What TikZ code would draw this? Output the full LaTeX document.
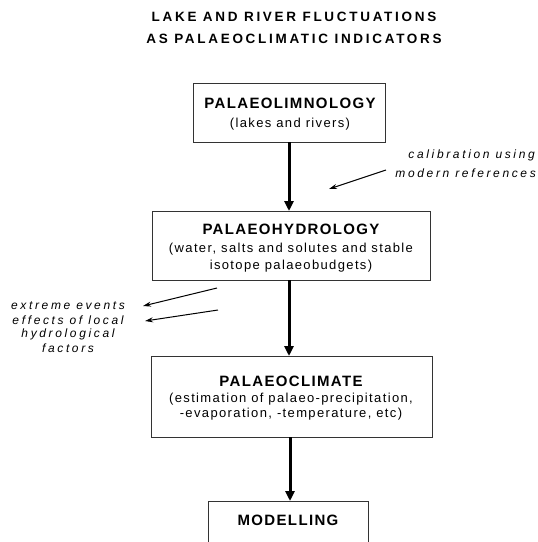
\documentclass[tikz,border=0pt]{standalone}
\usepackage{fontspec}
\setmainfont{Liberation Sans}
\newfontfamily\titlefont[LetterSpace=20]{Liberation Sans}
\newfontfamily\headfont[LetterSpace=9]{Liberation Sans}
\newfontfamily\subfont[LetterSpace=10.5]{Liberation Sans}
\newfontfamily\notefont[LetterSpace=22]{Liberation Sans}
\usetikzlibrary{arrows.meta}
\begin{document}
\begin{tikzpicture}[x=1pt,y=-1pt,
  box/.style={draw=black!80,line width=1pt},
  mainarrow/.style={line width=3pt,-{Triangle[length=10pt,width=9pt]}},
  note/.style={font=\notefont\itshape\fontsize{12}{14}\selectfont,inner sep=0pt},
  notearrow/.style={line width=1pt,-{Stealth[length=8pt,width=5pt]}},
  head/.style={font=\headfont\bfseries\fontsize{15}{17}\selectfont,inner sep=0pt},
  sub/.style={font=\subfont\fontsize{13}{15}\selectfont,inner sep=0pt},
  ttl/.style={font=\titlefont\bfseries\fontsize{13.5}{16}\selectfont,inner sep=0pt}]
\useasboundingbox (0,0) rectangle (538,542);
\clip (0,0) rectangle (538,542);
% title
\node[ttl] (title1) at (294,17) {LAKE AND RIVER FLUCTUATIONS};
\node[ttl] (title2) at (294,39) {AS PALAEOCLIMATIC INDICATORS};
% box 1
\draw[box] (193,83) rectangle (385,142);
\node[head] (h1) at (290,103) {PALAEOLIMNOLOGY};
\node[sub] (s1) at (290,124) {(lakes and rivers)};
% box 2
\draw[box] (152,211) rectangle (430,280);
\node[head] (h2) at (291,229) {PALAEOHYDROLOGY};
\node[sub] (s2a) at (291,249) {(water, salts and solutes and stable};
\node[sub] (s2b) at (291,266) {isotope palaeobudgets)};
% box 3
\draw[box] (151,356) rectangle (432,437);
\node[head] (h3) at (291,381) {PALAEOCLIMATE};
\node[sub] (s3a) at (291,399) {(estimation of palaeo-precipitation,};
\node[sub] (s3b) at (291,414) {-evaporation, -temperature, etc)};
% box 4
\draw[box] (208,501) rectangle (368,570);
\node[head] (h4) at (288,520) {MODELLING};
% connection points
\coordinate (b1b) at (289,142);
\coordinate (b2t) at (289,211);
\coordinate (b2b) at (289,280);
\coordinate (b3t) at (289,356);
\coordinate (b3b) at (290,437);
\coordinate (b4t) at (290,501);
% main arrows
\draw[mainarrow] (b1b) -- (b2t);
\draw[mainarrow] (b2b) -- (b3t);
\draw[mainarrow] (b3b) -- (b4t);
% annotations
\node[note,anchor=east] (cal1) at (535,155) {calibration using};
\node[note,anchor=east] (cal2) at (536,173) {modern references};
\coordinate (c1) at (386,170);
\coordinate (c2) at (329,189);
\draw[notearrow] (c1) -- (c2);
\node[note] (ext1) at (68,306) {extreme events};
\node[note] (ext2) at (68,320) {effects of local};
\node[note] (ext3) at (68,334) {hydrological};
\node[note] (ext4) at (68,348) {factors};
\coordinate (e1) at (217,288);
\coordinate (e2) at (143,306);
\coordinate (e3) at (218,310);
\coordinate (e4) at (145,321);
\draw[notearrow] (e1) -- (e2);
\draw[notearrow] (e3) -- (e4);
\end{tikzpicture}
\end{document}
